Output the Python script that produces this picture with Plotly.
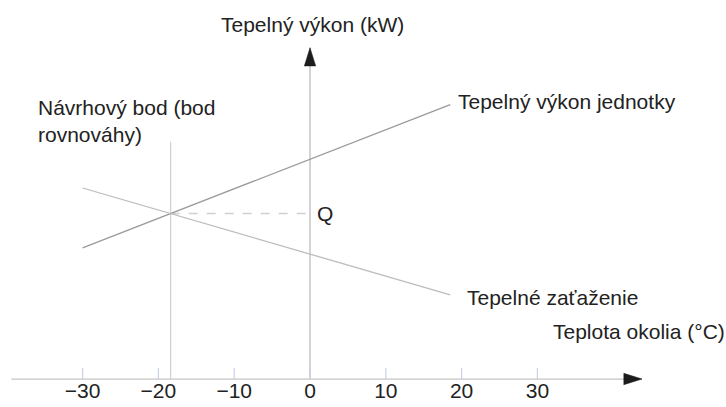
import plotly.graph_objects as go
import numpy as np

# Ambient temperature (°C) and heat output (kW) of the two characteristic lines
temp_ends = [-30, 18.5]
unit_output = [17.3, 36.2]      # Tepelný výkon jednotky
heat_load = [25.2, 11.1]        # Tepelné zaťaženie

tick_temps = [-30, -20, -10, 0, 10, 20, 30]
tick_labels = ["−30", "−20", "−10", "0", "10", "20", "30"]

x_axis_span = [-39.4, 43.8]
y_axis_span = [0, 43.7]
design_line_top = 31.3

FONT = "Liberation Sans, Arial, sans-serif"
TXT = "#222222"
FS = 21

# balance point = intersection of output and load lines
a1 = np.polyfit(temp_ends, unit_output, 1)
a2 = np.polyfit(temp_ends, heat_load, 1)
x_bal = (a2[1] - a1[1]) / (a1[0] - a2[0])
q_bal = np.polyval(a1, x_bal)

fig = go.Figure()

def seg(x, y, color, width=1.2, dash=None):
    fig.add_trace(go.Scatter(x=x, y=y, mode="lines", hoverinfo="skip",
                             line=dict(color=color, width=width, dash=dash)))

# axes
seg(x_axis_span, [0, 0], "#c4c4c4", 1.3)
seg([0, 0], y_axis_span, "#bdbdbd", 1.3)
for t in tick_temps:
    seg([t, t], [0, 1.45], "#c9d1ea", 1.2)

# arrow heads
ax_len, ax_hw = 2.4, 0.75
fig.add_trace(go.Scatter(
    x=[x_axis_span[1] - ax_len, x_axis_span[1], x_axis_span[1] - ax_len, x_axis_span[1] - ax_len],
    y=[ax_hw, 0, -ax_hw, ax_hw], mode="lines", fill="toself",
    fillcolor="#1c1c1c", line=dict(color="#1c1c1c", width=0.5), hoverinfo="skip"))
fig.add_trace(go.Scatter(
    x=[-ax_hw, 0, ax_hw, -ax_hw],
    y=[y_axis_span[1] - ax_len, y_axis_span[1], y_axis_span[1] - ax_len, y_axis_span[1] - ax_len],
    mode="lines", fill="toself",
    fillcolor="#1c1c1c", line=dict(color="#1c1c1c", width=0.5), hoverinfo="skip"))

# design temperature vertical and Q level
seg([x_bal, x_bal], [0, design_line_top], "#cfcfcf", 1.2)
seg([x_bal, 0], [q_bal, q_bal], "#d0d0d0", 1.5, "dash")

# characteristic lines
seg(temp_ends, unit_output, "#9a9a9a", 1.3)
seg(temp_ends, heat_load, "#bcbcbc", 1.3)

# tick labels
fig.add_trace(go.Scatter(x=tick_temps, y=[-1.85] * len(tick_temps), mode="text",
                         text=tick_labels, hoverinfo="skip",
                         textfont=dict(family=FONT, size=FS, color=TXT)))

def label(x, y, text, xanchor="left"):
    fig.add_annotation(x=x, y=y, text=text, showarrow=False, xanchor=xanchor,
                       yanchor="middle", align="left",
                       font=dict(family=FONT, size=FS, color=TXT))

label(0.3, 46.8, "Tepelný výkon (kW)", "center")
label(-36.2, 34.0, "Návrhový bod (bod<br>rovnováhy)")
label(19.3, 36.6, "Tepelný výkon jednotky")
label(0.6, q_bal, "Q")
label(20.4, 10.8, "Tepelné zaťaženie")
label(31.8, 6.3, "Teplota okolia (°C)")

fig.update_layout(
    width=726, height=407, autosize=False,
    margin=dict(l=0, r=0, t=0, b=0),
    paper_bgcolor="white", plot_bgcolor="white",
    showlegend=False,
    xaxis=dict(range=[-40.9, 54.88], visible=False),
    yaxis=dict(range=[-3.69, 50.0], visible=False),
)

fig.write_html("out.html")
